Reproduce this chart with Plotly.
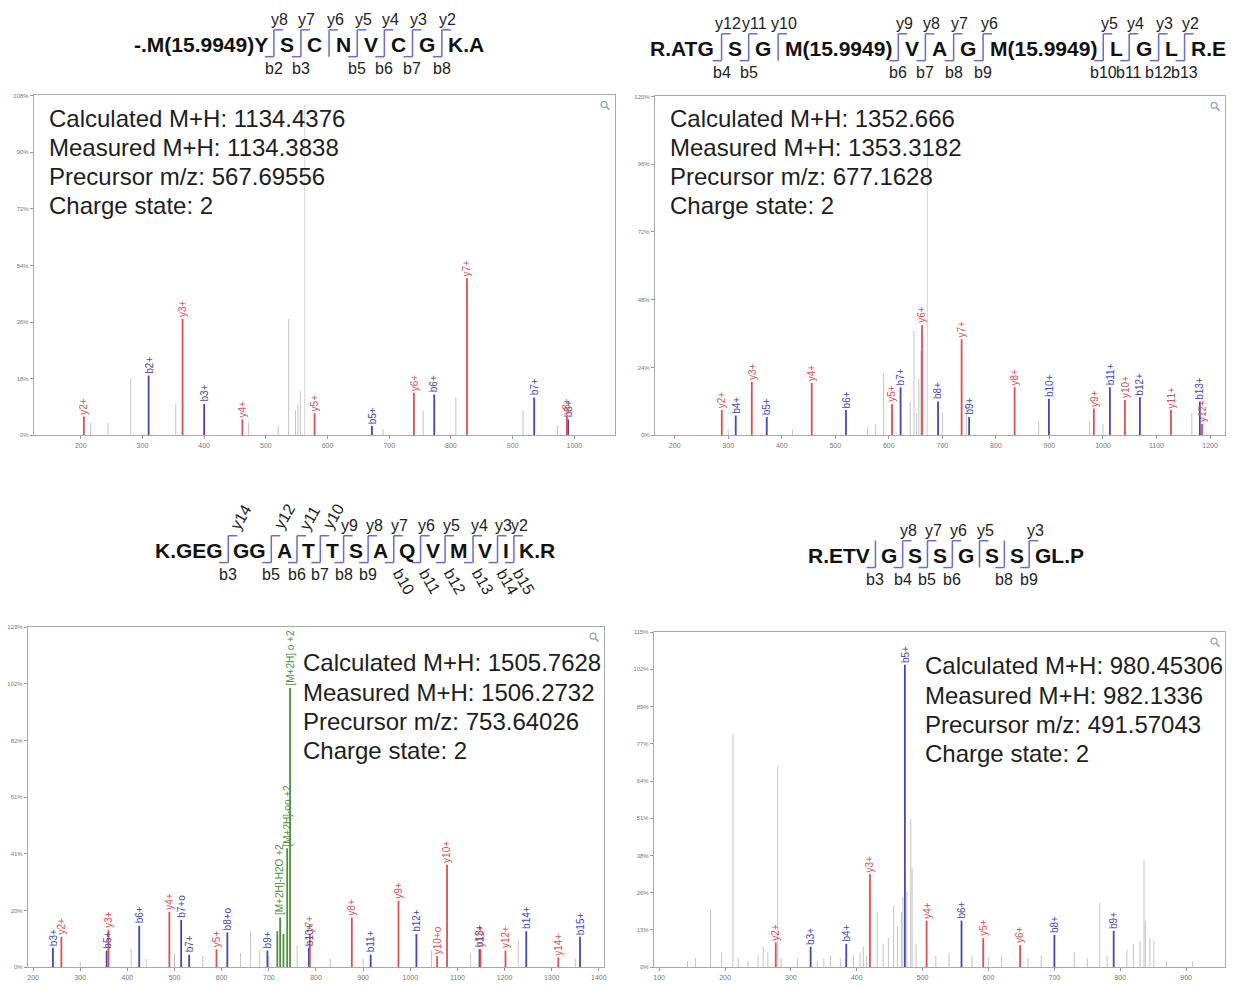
import plotly.graph_objects as go

W, H = 1234, 987
FONT = "Liberation Sans, Arial, Helvetica, sans-serif"

# ------------------------------------------------------------------ DATA
# Panel 1  -.M(15.9949)YSCNVCGK.A
p1_ytick_labels = ["0%", "18%", "36%", "54%", "72%", "90%", "108%"]
p1_info = ["Calculated M+H: 1134.4376", "Measured M+H: 1134.3838",
           "Precursor m/z: 567.69556", "Charge state: 2"]
p1_b_mz = [310, 400, 672, 773, 935, 990]
p1_b_int = [19, 10, 3, 13, 12, 5]
p1_b_lab = ["b2+", "b3+", "b5+", "b6+", "b7+", "b8+"]
p1_y_mz = [205, 365, 462, 579, 740, 826, 988]
p1_y_int = [6, 37, 5, 7, 13.5, 50, 6]
p1_y_lab = ["y2+", "y3+", "y4+", "y5+", "y6+", "y7+", "y8+"]
p1_gray_mz = [216, 244, 281, 354, 472, 520, 537, 548, 552, 556, 690, 755, 808, 917, 973]
p1_gray_int = [4, 4, 18, 10, 4, 3, 37, 8, 10, 14, 2, 8, 12, 8, 3]
p1_prec_mz, p1_prec_int = 563, 105

# Panel 2  R.ATGSGM(15.9949)VAGM(15.9949)LGLR.E
p2_ytick_labels = ["0%", "24%", "48%", "72%", "96%", "120%"]
p2_info = ["Calculated M+H: 1352.666", "Measured M+H: 1353.3182",
           "Precursor m/z: 677.1628", "Charge state: 2"]
p2_b_mz = [314, 372, 520, 622, 692, 750, 899, 1013, 1069, 1181]
p2_b_int = [7, 6.5, 9, 17, 12, 6.5, 13, 17, 13.5, 12]
p2_b_lab = ["b4+", "b5+", "b6+", "b7+", "b8+", "b9+", "b10+", "b11+", "b12+", "b13+"]
p2_y_mz = [288, 344, 456, 606, 662, 736, 835, 983, 1041, 1127, 1185]
p2_y_int = [9, 19, 18.5, 11, 39, 34, 17, 9.5, 12.5, 9, 4]
p2_y_lab = ["y2+", "y3+", "y4+", "y5+", "y6+", "y7+", "y8+", "y9+", "y10+", "y11+", "y12+"]
p2_gray_mz = [300, 420, 560, 575, 590, 640, 647, 652, 656, 660, 700, 745, 880, 975, 1000, 1166]
p2_gray_int = [2, 2, 3, 4, 22, 12, 37, 8, 20, 30, 8, 10, 5, 5, 4, 8]
p2_prec_mz, p2_prec_int = 672, 100

# Panel 3  K.GEGGGATTSAQVMVIK.R
p3_ytick_labels = ["0%", "20%", "41%", "61%", "82%", "102%", "123%"]
p3_info = ["Calculated M+H: 1505.7628", "Measured M+H: 1506.2732",
           "Precursor m/z: 753.64026", "Charge state: 2"]
p3_b_mz = [242, 356, 425, 514, 531, 612, 697, 785, 916, 1013, 1147, 1246, 1360]
p3_b_int = [7, 6, 15, 17, 4.5, 12.5, 6, 7, 4.5, 12, 6.5, 13, 11]
p3_b_lab = ["b3+", "b5+", "b6+", "b7+o", "b7+", "b8+o", "b9+", "b10+", "b11+",
            "b12+", "b13+", "b14+", "b15+"]
p3_y_mz = [260, 360, 489, 589, 787, 876, 975, 1057, 1078, 1149, 1202, 1314]
p3_y_int = [11, 13.5, 20, 6.5, 12, 18, 24, 4, 37, 6.5, 6, 3.5]
p3_y_lab = ["y2+", "y3+", "y4+", "y5+", "y7+", "y8+", "y9+", "y10+o", "y10+",
            "y11+", "y12+", "y14+"]
p3_g_mz = [718, 724, 731, 739, 745]
p3_g_int = [13, 18, 12, 43, 101]
p3_g_lab = ["", "[M+2H]-H2O +2", "", "[M+2H]-oo +2", "[M+2H] o +2"]
p3_gray_mz = [300, 408, 440, 500, 560, 640, 661, 680, 700, 760, 830, 900, 1045, 1128, 1229, 1350]
p3_gray_int = [2, 6.5, 3, 5, 4, 5, 13, 6, 4, 8, 3, 3, 6, 5, 10, 3]

# Panel 4  R.ETVGSSGSSGL.P
p4_ytick_labels = ["0%", "13%", "26%", "38%", "51%", "64%", "77%", "89%", "102%", "115%"]
p4_info = ["Calculated M+H: 980.45306", "Measured M+H: 982.1336",
           "Precursor m/z: 491.57043", "Charge state: 2"]
p4_b_mz = [330, 384, 473, 559, 700, 790]
p4_b_int = [7, 8, 104, 16, 11, 12.5]
p4_b_lab = ["b3+", "b4+", "b5+", "b6+", "b8+", "b9+"]
p4_y_mz = [277, 420, 506, 592, 648]
p4_y_int = [8.5, 32, 16, 10, 7.5]
p4_y_lab = ["y2+", "y3+", "y4+", "y5+", "y6+"]
p4_gray_mz = [143, 155, 178, 195, 212, 220, 235, 250, 258, 265, 280, 285, 310, 340, 350,
              360, 375, 395, 405, 410, 415, 431, 440, 448, 456, 462, 468, 470, 476, 482,
              484, 490, 520, 540, 575, 600, 620, 660, 680, 730, 750, 769, 780, 810, 820,
              830, 836, 838, 845, 851, 870, 910]
p4_gray_int = [2, 3, 19.5, 5, 80, 3, 2, 4, 7, 5, 69, 3, 3, 2, 3,
               4, 3, 4, 5, 7, 4, 19, 8, 10, 21, 14, 19, 24, 26, 51,
               34, 8, 4, 5, 4, 3, 4, 3, 4, 5, 3, 22, 4, 6, 8,
               9, 37, 16, 10, 9, 2, 2]

# Peptide sequence headers (tokens and fragment labels per cleavage)
h1_tokens = ["-.M(15.9949)Y", "S", "C", "N", "V", "C", "G", "K.A"]
h1_y = ["y8", "y7", "y6", "y5", "y4", "y3", "y2"]
h1_b = ["b2", "b3", "", "b5", "b6", "b7", "b8"]

h2_tokens = ["R.ATG", "S", "G", "M(15.9949)", "V", "A", "G", "M(15.9949)", "L", "G", "L", "R.E"]
h2_y = ["y12", "y11", "y10", "y9", "y8", "y7", "y6", "y5", "y4", "y3", "y2"]
h2_b = ["b4", "b5", "", "b6", "b7", "b8", "b9", "b10", "b11", "b12", "b13"]

h3_tokens = ["K.GEG", "GG", "A", "T", "T", "S", "A", "Q", "V", "M", "V", "I", "K.R"]
h3_y = ["y14", "y12", "y11", "y10", "y9", "y8", "y7", "y6", "y5", "y4", "y3", "y2"]
h3_b = ["b3", "b5", "b6", "b7", "b8", "b9", "b10", "b11", "b12", "b13", "b14", "b15"]

h4_tokens = ["R.ETV", "G", "S", "S", "G", "S", "S", "GL.P"]
h4_y = ["", "y8", "y7", "y6", "y5", "", "y3"]
h4_b = ["b3", "b4", "b5", "b6", "", "b8", "b9"]

# ------------------------------------------------------------------ STYLE
RED = "#de4f4f"
BLUE = "#4646b8"
GREEN = "#4f8f3f"
GRAY = "#c4c4c4"
BRACKET = "#6a6ad0"

panels = [
    dict(box=(33, 93, 616, 435), xr=(124, 1066), step=18, ticks=p1_ytick_labels,
         info=p1_info, info_xy=(47, 116),
         b=(p1_b_mz, p1_b_int, p1_b_lab), y=(p1_y_mz, p1_y_int, p1_y_lab), g=None,
         gray=(p1_gray_mz, p1_gray_int), prec=(p1_prec_mz, p1_prec_int)),
    dict(box=(656, 94, 1228, 435), xr=(163, 1228), step=24, ticks=p2_ytick_labels,
         info=p2_info, info_xy=(670, 116),
         b=(p2_b_mz, p2_b_int, p2_b_lab), y=(p2_y_mz, p2_y_int, p2_y_lab), g=None,
         gray=(p2_gray_mz, p2_gray_int), prec=(p2_prec_mz, p2_prec_int)),
    dict(box=(27, 628, 605, 970), xr=(189, 1411), step=20.5, ticks=p3_ytick_labels,
         info=p3_info, info_xy=(302, 664),
         b=(p3_b_mz, p3_b_int, p3_b_lab), y=(p3_y_mz, p3_y_int, p3_y_lab),
         g=(p3_g_mz, p3_g_int, p3_g_lab),
         gray=(p3_gray_mz, p3_gray_int), prec=None),
    dict(box=(655, 633, 1228, 970), xr=(92, 959), step=12.8, ticks=p4_ytick_labels,
         info=p4_info, info_xy=(926, 667),
         b=(p4_b_mz, p4_b_int, p4_b_lab), y=(p4_y_mz, p4_y_int, p4_y_lab), g=None,
         gray=(p4_gray_mz, p4_gray_int), prec=None),
]

headers = [
    dict(tokens=h1_tokens, y=h1_y, b=h1_b, span=(133, 485), yc=42, rot_y=0, rot_b=0),
    dict(tokens=h2_tokens, y=h2_y, b=h2_b, span=(651, 1229), yc=46, rot_y=0, rot_b=0),
    dict(tokens=h3_tokens, y=h3_y, b=h3_b, span=(155, 556), yc=551, rot_y=4, rot_b=6),
    dict(tokens=h4_tokens, y=h4_y, b=h4_b, span=(810, 1086), yc=556, rot_y=0, rot_b=0),
]

# Helvetica-Bold / Arial-Bold advance widths (per 1000 em)
HB = {'A': 722, 'C': 722, 'E': 667, 'G': 778, 'I': 278, 'K': 722, 'L': 611, 'M': 833,
      'N': 722, 'P': 667, 'Q': 778, 'R': 722, 'S': 667, 'T': 611, 'V': 667, 'Y': 667,
      '.': 278, '(': 333, ')': 333, '-': 333}
for d in "0123456789":
    HB[d] = 556


def tw(s, size):
    return sum(HB.get(c, 600) for c in s) * size / 1000.0


def px(x):
    return x / W


def py(y):
    return 1 - y / H


def stems(mz, inten):
    xs, ys = [], []
    for m, h in zip(mz, inten):
        xs += [m, m, None]
        ys += [0, h, None]
    return xs, ys


fig = go.Figure()
annotations = []
shapes = []
layout_axes = {}

for i, P in enumerate(panels, start=1):
    sx = "" if i == 1 else str(i)
    xa, ya = "x" + sx, "y" + sx
    xl, yt, xr_, yb = P["box"]
    n = len(P["ticks"])
    layout_axes["xaxis" + sx] = dict(
        domain=[px(xl), px(xr_)], range=list(P["xr"]), anchor=ya,
        showline=True, mirror=True, linecolor="#a9a9a9", linewidth=1,
        ticks="outside", ticklen=3, tickcolor="#9a9a9a",
        tickfont=dict(size=7, color="#777", family=FONT),
        tickmode="linear", tick0=0, dtick=100,
        showgrid=False, zeroline=False, fixedrange=True)
    layout_axes["yaxis" + sx] = dict(
        domain=[py(yb), py(yt)], range=[0, P["step"] * (n - 1)], anchor=xa,
        showline=True, mirror=True, linecolor="#a9a9a9", linewidth=1,
        ticks="outside", ticklen=3, tickcolor="#9a9a9a",
        tickvals=[P["step"] * k for k in range(n)], ticktext=P["ticks"],
        tickfont=dict(size=6, color="#777", family=FONT),
        showgrid=False, zeroline=False, fixedrange=True)

    # gray unassigned peaks
    gx, gy = stems(*P["gray"])
    fig.add_trace(go.Scatter(x=gx, y=gy, mode="lines", xaxis=xa, yaxis=ya,
                             line=dict(color=GRAY, width=1), showlegend=False,
                             hoverinfo="skip"))
    if P["prec"]:
        qx, qy = stems([P["prec"][0]], [P["prec"][1]])
        fig.add_trace(go.Scatter(x=qx, y=qy, mode="lines", xaxis=xa, yaxis=ya,
                                 line=dict(color="#d6d6d6", width=1), showlegend=False,
                                 hoverinfo="skip"))
    series = [(P["b"], BLUE), (P["y"], RED)]
    if P["g"]:
        series.append((P["g"], GREEN))
    for (mz, inten, labs), col in series:
        sxs, sys_ = stems(mz, inten)
        fig.add_trace(go.Scatter(x=sxs, y=sys_, mode="lines", xaxis=xa, yaxis=ya,
                                 line=dict(color=col, width=1.8), showlegend=False,
                                 hoverinfo="skip"))
        for m, h, t in zip(mz, inten, labs):
            if t:
                annotations.append(dict(
                    x=m, y=h, xref=xa, yref=ya, text=t, textangle=-90,
                    showarrow=False, xanchor="center", yanchor="bottom",
                    borderpad=0, yshift=1,
                    font=dict(size=10, color=col, family=FONT)))

    # info text
    ix, iy = P["info_xy"]
    for k, line in enumerate(P["info"]):
        annotations.append(dict(
            x=px(ix), y=py(iy + 29.3 * k), xref="paper", yref="paper", text=line,
            showarrow=False, xanchor="left", yanchor="middle", borderpad=0,
            font=dict(size=24, color="#1e1e1e", family=FONT)))

    # magnifier icon
    cx, cy = xr_ - 10, yt + 10
    shapes.append(dict(type="circle", xref="paper", yref="paper",
                       x0=px(cx - 4), x1=px(cx + 2), y0=py(cy + 2), y1=py(cy - 4),
                       line=dict(color="#8fa3c8", width=1.2)))
    shapes.append(dict(type="line", xref="paper", yref="paper",
                       x0=px(cx + 1.5), x1=px(cx + 4.5), y0=py(cy + 1.5), y1=py(cy + 4.5),
                       line=dict(color="#8fa3c8", width=1.6)))

# sequence headers
SEQ_SIZE = 21
LAB_SIZE = 16
for Hd in headers:
    toks = Hd["tokens"]
    x0, x1 = Hd["span"]
    yc = Hd["yc"]
    total = sum(tw(t, SEQ_SIZE) for t in toks)
    ngap = len(toks) - 1
    gap = (x1 - x0 - total) / ngap
    x = x0
    for k, t in enumerate(toks):
        annotations.append(dict(
            x=px(x), y=py(yc), xref="paper", yref="paper", text="<b>%s</b>" % t,
            showarrow=False, xanchor="left", yanchor="middle", borderpad=0, borderwidth=0,
            font=dict(size=SEQ_SIZE, color="#111", family=FONT)))
        x += tw(t, SEQ_SIZE)
        if k < ngap:
            bx = x + gap / 2.0
            ylab, blab = Hd["y"][k], Hd["b"][k]
            shapes.append(dict(type="line", xref="paper", yref="paper",
                               x0=px(bx), x1=px(bx), y0=py(yc - 15), y1=py(yc + 12),
                               line=dict(color=BRACKET, width=1.5)))
            if ylab:
                shapes.append(dict(type="line", xref="paper", yref="paper",
                                   x0=px(bx), x1=px(bx + 9), y0=py(yc - 15), y1=py(yc - 15),
                                   line=dict(color=BRACKET, width=1.5)))
                if k < Hd["rot_y"]:
                    annotations.append(dict(
                        x=px(bx - 2), y=py(yc - 17), xref="paper", yref="paper", text=ylab,
                        textangle=-60, showarrow=False, xanchor="left", yanchor="bottom",
                        borderpad=0, font=dict(size=LAB_SIZE, color="#222", family=FONT)))
                else:
                    annotations.append(dict(
                        x=px(bx + 6), y=py(yc - 25), xref="paper", yref="paper", text=ylab,
                        showarrow=False, xanchor="center", yanchor="middle", borderpad=0,
                        font=dict(size=LAB_SIZE, color="#222", family=FONT)))
            if blab:
                shapes.append(dict(type="line", xref="paper", yref="paper",
                                   x0=px(bx - 9), x1=px(bx), y0=py(yc + 12), y1=py(yc + 12),
                                   line=dict(color=BRACKET, width=1.5)))
                if k >= ngap - Hd["rot_b"]:
                    annotations.append(dict(
                        x=px(bx - 6), y=py(yc + 14), xref="paper", yref="paper", text=blab,
                        textangle=60, showarrow=False, xanchor="left", yanchor="top",
                        borderpad=0, font=dict(size=LAB_SIZE, color="#222", family=FONT)))
                else:
                    annotations.append(dict(
                        x=px(bx), y=py(yc + 24), xref="paper", yref="paper", text=blab,
                        showarrow=False, xanchor="center", yanchor="middle", borderpad=0,
                        font=dict(size=LAB_SIZE, color="#222", family=FONT)))
            x += gap

fig.update_layout(
    width=W, height=H, margin=dict(l=0, r=0, t=0, b=0),
    paper_bgcolor="white", plot_bgcolor="white",
    annotations=annotations, shapes=shapes, showlegend=False,
    **layout_axes)

fig.write_html("out.html", config={"displayModeBar": False},
               post_script="document.body.style.margin='0px';document.body.style.overflow='hidden';")
